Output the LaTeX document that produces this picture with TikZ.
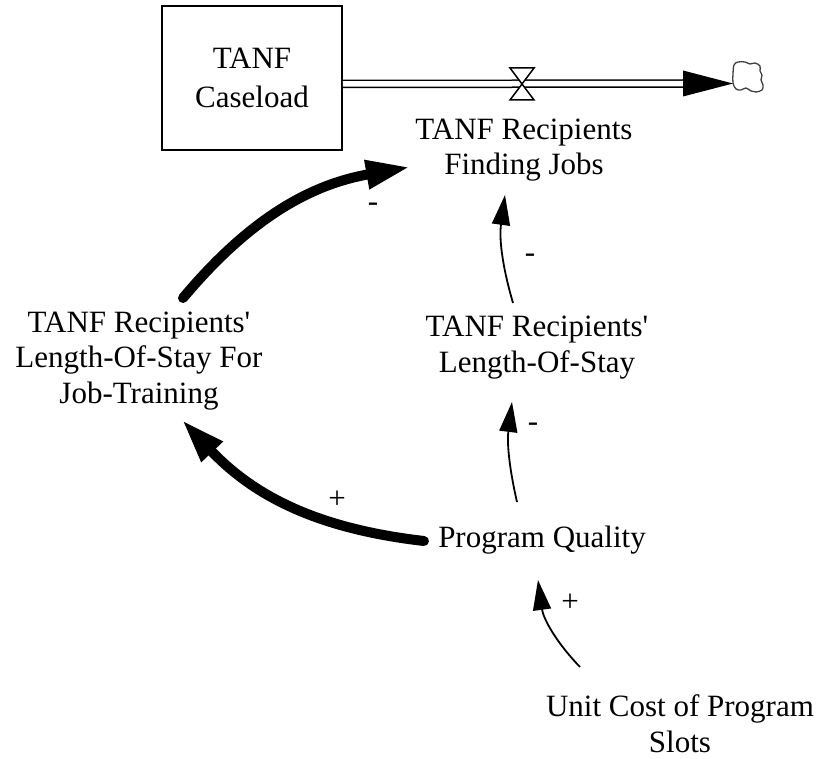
\documentclass[tikz,border=0pt]{standalone}
\usepackage{fontspec}
\setmainfont{Liberation Serif}
\usetikzlibrary{arrows.meta}
\begin{document}
\begin{tikzpicture}[x=1pt,y=-1pt,
  lbl/.style={align=center, font=\fontsize{31}{35.5}\selectfont, inner sep=0pt, anchor=base},
  sign/.style={font=\fontsize{31}{31}\selectfont, inner sep=0pt, anchor=center},
  stockbox/.style={draw, line width=1.5pt, minimum width=180pt, minimum height=144pt,
    align=center, font=\fontsize{31}{39}\selectfont, inner sep=0pt},
  thinlink/.style={line width=1.8pt, -{Triangle[length=30pt,width=18pt]}},
  thicklink/.style={line width=10pt, line cap=round, -{Triangle[length=44pt,width=27pt]}},
  pipe/.style={double, double distance=5.5pt, line width=1.5pt},
  valveshape/.style={line width=1.5pt, fill=white, line join=miter}]
\useasboundingbox (0,0) rectangle (822,759);

% stock and flow
\node[stockbox] (stock) at (252,78) {TANF\\Caseload};
\coordinate (cloud) at (733,83.5);
\coordinate (valve) at (522,84);
\draw[pipe] (stock.east |- valve) -- ([xshift=-48pt]cloud);
\fill ([xshift=-50pt,yshift=-13pt]cloud) -- (cloud) -- ([xshift=-50pt,yshift=13pt]cloud) -- cycle;
\draw[valveshape] ([shift={(-12,-16)}]valve) -- ([shift={(12,-16)}]valve) -- (valve) -- cycle;
\draw[valveshape] ([shift={(-12,16)}]valve) -- ([shift={(12,16)}]valve) -- (valve) -- cycle;
\draw[line width=1.3pt, black!75, line join=round]
  plot[smooth cycle, tension=0.6] coordinates {
    (733,83) (733,74) (734,65) (738,62) (745,62) (750,64) (755,63) (760,66)
    (760,71) (762,75) (761,80) (763,85) (762,90) (756,92) (751,91) (746,88)
    (741,90) (736,89)};

% variables (base anchor = baseline of the last line)
\node[lbl] (fj) at (524,175) {TANF Recipients\\Finding Jobs};
\node[lbl] (losjt) at (139,403) {TANF Recipients\textquotesingle\\Length-Of-Stay For\\Job-Training};
\node[lbl] (los) at (537,372) {TANF Recipients\textquotesingle\\Length-Of-Stay};
\node[lbl] (pq) at (542,547) {Program Quality};
\node[lbl] (uc) at (680,752) {Unit Cost of Program\\Slots};

% causal links
\draw[thicklink] ([shift={(44,-105)}]losjt.base) to[bend left=20] ([shift={(-114,-8)}]fj.base);
\draw[thicklink] ([shift={(-118,-6)}]pq.base) to[bend left=20] ([shift={(43,17)}]losjt.base);
\draw[thinlink] ([shift={(-24,-69)}]los.base) to[bend left=12] ([shift={(-19,20)}]fj.base);
\draw[thinlink] ([shift={(-25,-45)}]pq.base) to[bend left=10] ([shift={(-25,30)}]los.base);
\draw[thinlink] ([shift={(-100,-85)}]uc.base) to[bend left=18] ([shift={(-4,33)}]pq.base);

% polarities
\node[sign] (s1) at (373,207) {-};
\node[sign] (s2) at (337,500) {+};
\node[sign] (s3) at (530,258) {-};
\node[sign] (s4) at (533,427) {-};
\node[sign] (s5) at (570,603) {+};
\end{tikzpicture}
\end{document}
